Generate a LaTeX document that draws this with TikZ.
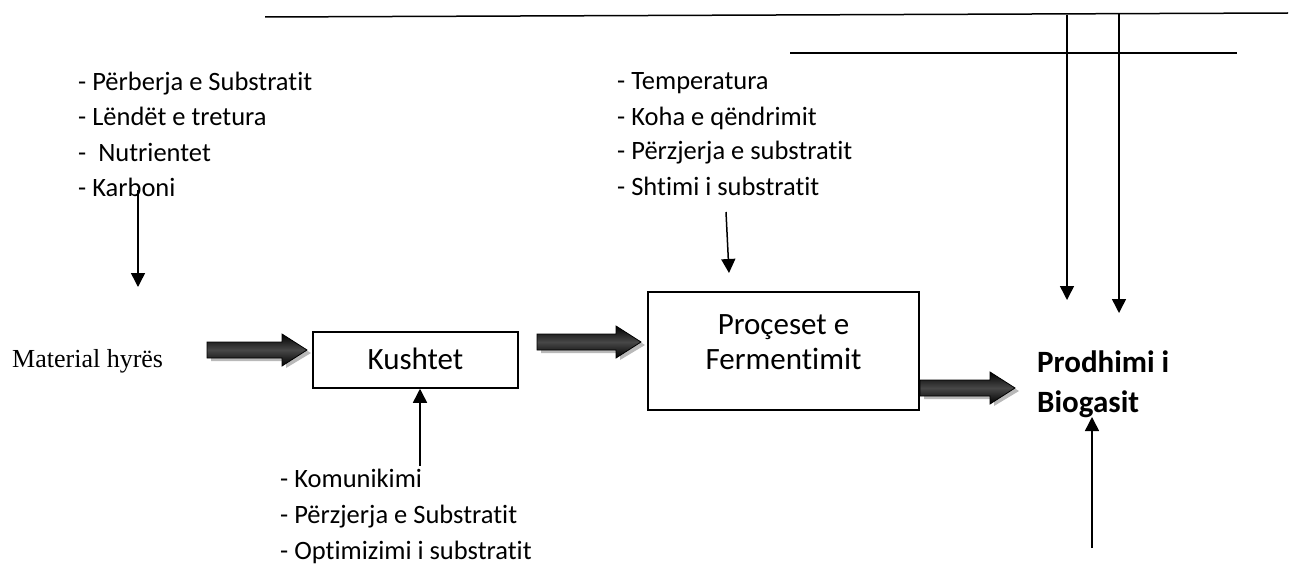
\documentclass[tikz,border=0pt]{standalone}
\usepackage{fontspec}
\setmainfont{Carlito}[Ligatures={NoCommon}]
\newfontfamily\timesfont{Liberation Serif}
\usetikzlibrary{arrows.meta}
\begin{document}
\begin{tikzpicture}[x=1pt,y=-1pt,
  thin line/.style={line width=1.5pt},
  conn/.style={thin line,-{Triangle[width=14pt,length=14pt]}},
  listtext/.style={anchor=base west,inner sep=0pt,font=\fontsize{26.5}{32}\selectfont},
  boxstyle/.style={draw,line width=1.5pt,inner sep=0pt},
  boxtext/.style={anchor=base,inner sep=0pt,font=\fontsize{31}{36}\selectfont},
  pics/fatarrow/.style={code={
    \fill[gray!55] (4,-5) -- (#1-21,-5) -- (#1-21,-12) -- (#1+4,3) -- (#1-21,18) -- (#1-21,11) -- (4,11) -- cycle;
    \shade[top color=black,bottom color=black,middle color=black!72,draw=black,line width=0.8pt]
      (0,-8) -- (#1-25,-8) -- (#1-25,-16) -- (#1,0) -- (#1-25,16) -- (#1-25,8) -- (0,8) -- cycle;
  }}]
\useasboundingbox (0,0) rectangle (1314,567);

% top lines
\coordinate (t1a) at (265,17);
\coordinate (t1b) at (1288,13);
\coordinate (t2a) at (790,53);
\coordinate (t2b) at (1237,53);
\draw[thin line] (t1a) -- (t1b);
\draw[thin line] (t2a) -- (t2b);

% left list
\node[listtext] (l1) at (78,91) {- Përberja e Substratit};
\node[listtext] (l2) at (78,126) {- Lëndët e tretura};
\node[listtext] (l3) at (78,161) {-\ \ Nutrientet};
\node[listtext] (l4) at (78,196) {- Karboni};

% middle list
\node[listtext] (m1) at (617,90) {- Temperatura};
\node[listtext] (m2) at (617,125) {- Koha e qëndrimit};
\node[listtext] (m3) at (617,160) {- Përzjerja e substratit};
\node[listtext] (m4) at (617,195) {- Shtimi i substratit};

% bottom list
\node[listtext] (b1) at (280,487) {- Komunikimi};
\node[listtext] (b2) at (280,523) {- Përzjerja e Substratit};
\node[listtext] (b3) at (280,559) {- Optimizimi i substratit};

% input
\node[anchor=base west,inner sep=0pt,font=\timesfont\fontsize{26}{30}\selectfont] (mat) at (12,367) {Material hyrës};

% boxes
\node[boxstyle,minimum width=205pt,minimum height=56pt] (kush) at (415.5,360) {};
\node[boxtext] (kusht) at (415.5,369) {Kushtet};
\node[boxstyle,minimum width=271pt,minimum height=118pt] (ferm) at (783.5,351) {};
\node[boxtext] (ferm1) at (783.5,334) {Proçeset e};
\node[boxtext] (ferm2) at (783.5,369) {Fermentimit};

% output
\node[anchor=base west,inner sep=0pt,font=\bfseries\fontsize{31}{36}\selectfont] (prod1) at (1037,372) {Prodhimi i};
\node[anchor=base west,inner sep=0pt,font=\bfseries\fontsize{31}{36}\selectfont] (prod2) at (1037,412) {Biogasit};

% thin arrows
\coordinate (k1) at (138,190);
\coordinate (k2) at (138,287);
\draw[conn] (k1) -- (k2);
\coordinate (s1) at (726,212);
\coordinate (s2) at (729,273);
\draw[conn] (s1) -- (s2);
\coordinate (c1) at (420,466);
\draw[conn] (c1) -- (kush.south -| c1);
\coordinate (v1a) at (1067,15);
\coordinate (v1b) at (1067,300);
\draw[conn] (v1a) -- (v1b);
\coordinate (v2a) at (1119,14);
\coordinate (v2b) at (1119,313);
\draw[conn] (v2a) -- (v2b);
\coordinate (p1) at (1092,548);
\coordinate (p2) at (1092,417);
\draw[conn] (p1) -- (p2);

% thick arrows
\coordinate (f1) at (207,350);
\coordinate (f2) at (537,342);
\coordinate (f3) at (920,388);
\pic at (f1) {fatarrow=100};
\pic at (f2) {fatarrow=104};
\pic at (f3) {fatarrow=95};
\end{tikzpicture}
\end{document}
